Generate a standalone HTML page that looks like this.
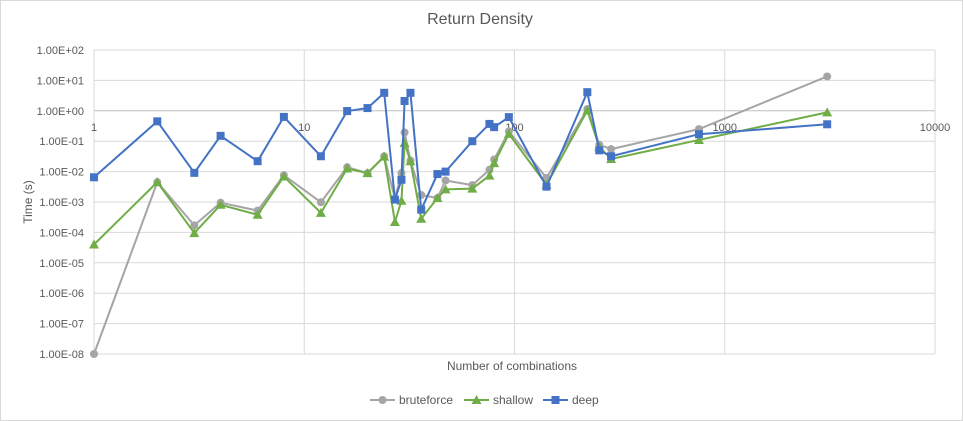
<!DOCTYPE html>
<html><head><meta charset="utf-8"><style>
html,body{margin:0;padding:0;background:#fff;}
svg{display:block;font-family:"Liberation Sans",sans-serif;}
</style></head><body>
<svg id="chart" width="963" height="421">
<rect x="0.5" y="0.5" width="962" height="420" fill="#fff" stroke="#d9d9d9"/>
<text x="480" y="24" text-anchor="middle" font-size="16" fill="#595959">Return Density</text>
<text transform="translate(32,202) rotate(-90)" text-anchor="middle" font-size="12" fill="#595959">Time (s)</text>
<text x="512" y="370" text-anchor="middle" font-size="12" fill="#595959">Number of combinations</text>
<g id="grid"></g><g id="series"></g>
<g id="legend"></g>
</svg>
<script>
const xs = [1,2,3,4,6,8,12,16,20,24,27,29,30,32,36,43,47,63,76,80,94,142,222,253,288,754,3070];
const bruteforce = [1e-8,4.5e-3,1.7e-4,9.5e-4,5.2e-4,7.6e-3,9.8e-4,0.014,8.9e-3,0.032,1.3e-3,8.9e-3,0.195,0.023,1.7e-3,1.35e-3,5.1e-3,3.6e-3,0.0115,0.025,0.21,6.2e-3,1.15,0.076,0.055,0.25,13.5];
const shallow = [4e-5,4.5e-3,9.5e-5,8.1e-4,3.8e-4,6.9e-3,4.4e-4,0.0126,8.9e-3,0.031,2.2e-4,1.1e-3,0.087,0.022,2.8e-4,1.35e-3,2.6e-3,2.75e-3,7.4e-3,0.019,0.174,3.7e-3,1.02,0.065,0.026,0.11,0.89];
const deep = [6.5e-3,0.45,9.1e-3,0.15,0.022,0.63,0.032,0.98,1.23,3.9,1.2e-3,5.4e-3,2.1,3.9,5.6e-4,8.3e-3,0.01,0.1,0.37,0.29,0.62,3.2e-3,4.1,0.05,0.032,0.17,0.36];
const yTickLabels = ["1.00E+02","1.00E+01","1.00E+00","1.00E-01","1.00E-02","1.00E-03","1.00E-04","1.00E-05","1.00E-06","1.00E-07","1.00E-08"];
const xTickLabels = ["1","10","100","1000","10000"];

const NS="http://www.w3.org/2000/svg";
const L=94,R=935,T=50,B=354;
const X=v=>L+(R-L)*Math.log10(v)/4;
const Y=v=>T+(B-T)*(2-Math.log10(v))/10;
function mk(tag,attrs,parent){const e=document.createElementNS(NS,tag);for(const k in attrs)e.setAttribute(k,attrs[k]);parent.appendChild(e);return e;}
const grid=document.getElementById('grid'),ser=document.getElementById('series'),leg=document.getElementById('legend');
yTickLabels.forEach((t,i)=>{
  const v=Math.pow(10,2-i),y=Y(v);
  const ln=mk('line',{x1:L,x2:R,y1:y,y2:y,stroke:i==2?'#bfbfbf':'#d9d9d9','stroke-width':1},grid);
  
  
  const tx=mk('text',{x:84,y:y+4,'text-anchor':'end','font-size':11,fill:'#595959'},grid);
  tx.textContent=t;
  
  
});
xTickLabels.forEach((t)=>{
  const x=X(+t);
  const ln=mk('line',{x1:x,x2:x,y1:T,y2:B,stroke:'#d9d9d9','stroke-width':1},grid);
  
  
  const tx=mk('text',{x:x,y:Y(1)+20,'text-anchor':'middle','font-size':11,fill:'#595959'},grid);
  tx.textContent=t;
  
  
});
function marker(shape,x,y,color,parent){
  let e;
  if(shape=='circle')e=mk('circle',{cx:x,cy:y,r:4,fill:color},parent);
  else if(shape=='tri')e=mk('polygon',{points:`${x},${y-5} ${x+5},${y+4} ${x-5},${y+4}`,fill:color},parent);
  else e=mk('rect',{x:x-4,y:y-4,width:8,height:8,fill:color},parent);
  return e;
}
const defs=[["bruteforce",bruteforce,'#a5a5a5','circle'],["shallow",shallow,'#70ad47','tri'],["deep",deep,'#4472c4','sq']];
defs.forEach(([name,vals,color,shape])=>{
  const g=mk('g',{},ser);
  
  
  const pts=vals.map((v,i)=>X(xs[i])+','+Y(v)).join(' ');
  const pl=mk('polyline',{points:pts,fill:'none',stroke:color,'stroke-width':2,'stroke-linejoin':'round'},g);
  
  
  vals.forEach((v,i)=>{
    const m=marker(shape,X(xs[i]),Y(v),color,g);
    
    
  });
});
const legX=[370,464,543];
defs.forEach(([name,vals,color,shape],i)=>{
  const g=mk('g',{},leg);
  
  
  const x=legX[i],y=400;
  mk('line',{x1:x,x2:x+25,y1:y,y2:y,stroke:color,'stroke-width':2},g);
  marker(shape,x+12.5,y,color,g);
  const t=mk('text',{x:x+29,y:y+4,'font-size':12,fill:'#595959'},g);
  t.textContent=name;
});
</script>
</body></html>
